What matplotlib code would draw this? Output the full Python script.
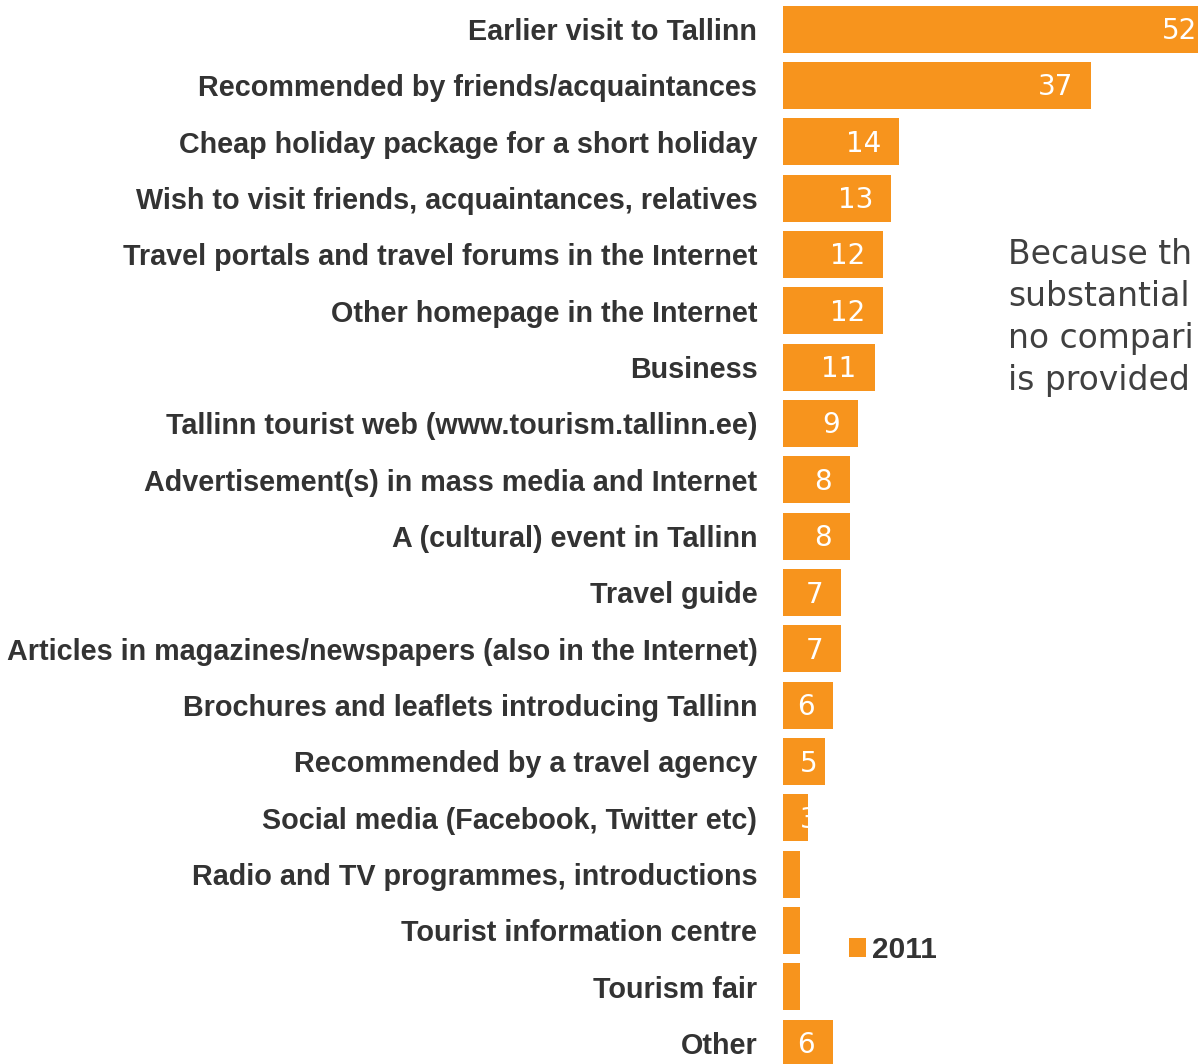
import matplotlib
matplotlib.use('Agg')
import matplotlib.pyplot as plt

''' Information sources for the trip, 2011 (%) '''
lsCategories = ['Earlier visit to Tallinn',
                'Recommended by friends/acquaintances',
                'Cheap holiday package for a short holiday',
                'Wish to visit friends, acquaintances, relatives',
                'Travel portals and travel forums in the Internet',
                'Other homepage in the Internet',
                'Business',
                'Tallinn tourist web (www.tourism.tallinn.ee)',
                'Advertisement(s) in mass media and Internet',
                'A (cultural) event in Tallinn',
                'Travel guide',
                'Articles in magazines/newspapers (also in the Internet)',
                'Brochures and leaflets introducing Tallinn',
                'Recommended by a travel agency',
                'Social media (Facebook, Twitter etc)',
                'Radio and TV programmes, introductions',
                'Tourist information centre',
                'Tourism fair',
                'Other']
lnValues = [52, 37, 14, 13, 12, 12, 11, 9, 8, 8, 7, 7, 6, 5, 3, 2, 2, 2, 6]
sYear = '2011'
lsNote = ['Because th', 'substantial', 'no compari', 'is provided']

cOrange = '#F7941D'
cText = '#333333'
lsLabelFont = ['Liberation Sans', 'DejaVu Sans']

fig = plt.figure(figsize=(11.98, 10.64), dpi=100)
ax = fig.add_axes([783 / 1198., 0.0, 415 / 1198., 1.0])

lnPos = list(range(len(lnValues)))
bars = ax.barh(lnPos, lnValues, height=0.834, color=cOrange, label=sYear)

ax.set_xlim(0, 49.88)
ax.set_ylim(18.37, -0.515)

''' Category labels on the left '''
ax.set_yticks(lnPos)
ax.set_yticklabels(lsCategories, family=lsLabelFont, weight='bold',
                   fontsize=20.7, color=cText)
ax.tick_params(axis='y', length=0, pad=18.5)
ax.set_xticks([])
for s in ax.spines.values():
    s.set_visible(False)

''' Value labels inside the bar ends, small bars anchored at the start '''
for i, v in enumerate(lnValues):
    if v < 6:
        ax.annotate(str(v), (0, i), xytext=(12.5, -1.5), textcoords='offset points',
                    ha='left', va='center', color='white', fontsize=20,
                    family='DejaVu Sans', annotation_clip=False)
    else:
        ax.annotate(str(v), (v, i), xytext=(-13, -1.5), textcoords='offset points',
                    ha='right', va='center', color='white', fontsize=20,
                    family='DejaVu Sans', annotation_clip=False)

leg = ax.legend(loc='upper left', bbox_to_anchor=(849 / 1198., 1 - 936 / 1064.),
                bbox_transform=fig.transFigure, frameon=False,
                handlelength=0.58, handleheight=0.58, handletextpad=0.2,
                borderpad=0, borderaxespad=0,
                prop={'family': lsLabelFont, 'weight': 'bold', 'size': 21.5})
for t in leg.get_texts():
    t.set_color(cText)

''' Note text at the right edge '''
for i, sLine in enumerate(lsNote):
    fig.text(1008 / 1198., 1 - (264 + 42 * i) / 1064., sLine, ha='left',
             va='baseline', fontsize=23.8, color='#404040', family='DejaVu Sans')

fig.savefig('out.png', dpi=100)
